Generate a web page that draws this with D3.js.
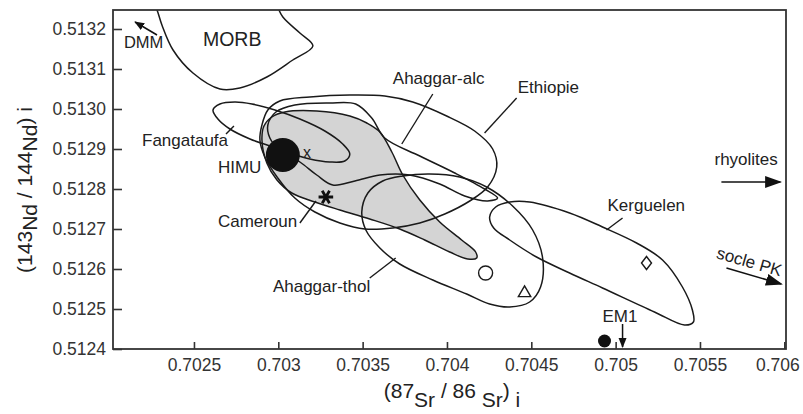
<!DOCTYPE html>
<html lang="en">
<head>
<meta charset="UTF-8">
<title>Sr-Nd isotopes</title>
<script src="https://d3js.org/d3.v7.min.js"></script>
<style>
  body { margin: 0; background: #fff; }
  svg { display: block; font-family: "Liberation Sans", Arial, sans-serif; }
</style>
</head>
<body>
<script>
// axis ticks
const xTicks = [0.7025, 0.703, 0.7035, 0.704, 0.7045, 0.705, 0.7055, 0.706];
const xTickLabels = ["0.7025", "0.703", "0.7035", "0.704", "0.7045", "0.705", "0.7055", "0.706"];
const yTicks = [0.5124, 0.5125, 0.5126, 0.5127, 0.5128, 0.5129, 0.5130, 0.5131, 0.5132];

// fields, each point is [87Sr/86Sr, 143Nd/144Nd]
const morb = [[0.702239,0.513285],[0.702281,0.5132475],[0.702310,0.51321],[0.702376,0.5131475],[0.702494,0.51309],[0.702654,0.51305],[0.702772,0.5130525],[0.702932,0.51308],[0.703086,0.5131225],[0.703205,0.5131575],[0.703128,0.51319],[0.703027,0.51323],[0.702950,0.513285],[0.702595,0.5133475]];
const fangataufa = [[0.702613,0.5129975],[0.702654,0.5130125],[0.702743,0.5130175],[0.702844,0.5130125],[0.70298,0.5129975],[0.703128,0.512975],[0.703276,0.512945],[0.703382,0.5129125],[0.703424,0.5128875],[0.703394,0.51287],[0.703305,0.5128675],[0.703187,0.512875],[0.703069,0.51289],[0.70295,0.5129075],[0.702832,0.512925],[0.702713,0.51295],[0.702642,0.512975]];
const cameroun = [[0.702903,0.5129225],[0.702915,0.5129575],[0.702962,0.51298],[0.703039,0.5129925],[0.703228,0.512995],[0.703424,0.5129825],[0.703525,0.512965],[0.703602,0.5129425],[0.703673,0.5128925],[0.703738,0.512835],[0.703839,0.5127725],[0.703957,0.5127175],[0.704087,0.5126725],[0.70417,0.5126425],[0.704176,0.5126275],[0.704123,0.512625],[0.704016,0.5126425],[0.703868,0.5126725],[0.70372,0.5127],[0.703542,0.512725],[0.703365,0.5127475],[0.703217,0.5127675],[0.70308,0.51279],[0.702992,0.5128225],[0.702932,0.512865]];
const ethiopie = [[0.702903,0.51296],[0.702938,0.5129975],[0.703009,0.51302],[0.703187,0.51303],[0.703424,0.513035],[0.703631,0.5130325],[0.703797,0.5130175],[0.703998,0.5129825],[0.704164,0.512945],[0.704271,0.5129],[0.704295,0.512855],[0.704241,0.512805],[0.704135,0.51277],[0.703987,0.5127375],[0.703839,0.512715],[0.703679,0.5127025],[0.703513,0.5127],[0.703365,0.512715],[0.703217,0.5127425],[0.703098,0.5127775],[0.702997,0.5128275],[0.70292,0.51288],[0.702891,0.5129225]];
const ahaggarAlc = [[0.702938,0.51296],[0.702986,0.5129925],[0.703098,0.51301],[0.703305,0.513015],[0.703459,0.5130125],[0.703554,0.5129775],[0.703631,0.5129275],[0.703839,0.5128825],[0.704046,0.51284],[0.704223,0.5128],[0.7043,0.5127775],[0.704241,0.51277],[0.704105,0.5127825],[0.703957,0.5128125],[0.703779,0.512835],[0.703602,0.512835],[0.703454,0.51282],[0.703323,0.51281],[0.703228,0.512835],[0.703128,0.5128675],[0.703009,0.5128975],[0.70295,0.5129275]];
const ahaggarThol = [[0.703495,0.5127425],[0.703531,0.51279],[0.703619,0.51282],[0.703738,0.5128325],[0.703898,0.5128375],[0.704075,0.51283],[0.704235,0.512805],[0.704389,0.5127575],[0.704508,0.5126975],[0.704567,0.5126275],[0.704555,0.512555],[0.70449,0.5125175],[0.704372,0.512505],[0.704253,0.5125125],[0.704117,0.5125375],[0.703916,0.5125725],[0.70372,0.5126125],[0.703602,0.5126525],[0.703519,0.5126975]];
const kerguelen = [[0.704253,0.51273],[0.704289,0.512755],[0.704372,0.5127675],[0.70449,0.5127675],[0.704727,0.51274],[0.704922,0.512705],[0.705124,0.512665],[0.705278,0.5126225],[0.705396,0.512555],[0.705455,0.5124975],[0.705461,0.5124675],[0.705408,0.51246],[0.70523,0.5124925],[0.704922,0.5125525],[0.704727,0.51259],[0.704531,0.51263],[0.704372,0.5126725],[0.704277,0.5127025]];

// single samples / end members
const himu = [0.703027, 0.512885];
const xPoint = [0.703146, 0.5128775];
const starPoint = [0.703282, 0.51278];
const openCircle = [0.704229, 0.51259];
const triangle = [0.70446, 0.5125425];
const diamond = [0.705183, 0.512615];
const em1Dot = [0.704934, 0.51242];

// labels: text, Sr, Nd
const labels = [
  ["DMM", 0.702085, 0.5131525],
  ["Fangataufa", 0.702192, 0.5129075],
  ["HIMU", 0.702642, 0.51284],
  ["Cameroun", 0.702642, 0.512705],
  ["Ahaggar-alc", 0.703679, 0.5130625],
  ["Ethiopie", 0.704419, 0.51304],
  ["rhyolites", 0.705586, 0.51286],
  ["Kerguelen", 0.704952, 0.512745],
  ["Ahaggar-thol", 0.702968, 0.5125425],
  ["EM1", 0.704922, 0.5124675]
];
// leader lines: [from, to]
const leaders = [
  [[0.70269, 0.5129375], [0.702737, 0.5129575]],
  [[0.703128, 0.512715], [0.703223, 0.51277]],
  [[0.703916, 0.5130375], [0.703732, 0.5129125]],
  [[0.704413, 0.5130275], [0.704223, 0.51294]],
  [[0.705041, 0.5127275], [0.704946, 0.5126975]],
  [[0.703542, 0.5125775], [0.703696, 0.5126275]]
];
// arrows: [from, to]
const arrows = [
  [[0.702281, 0.513185], [0.702151, 0.5132175]],
  [[0.705627, 0.5128175], [0.705977, 0.5128175]],
  [[0.705657, 0.5126025], [0.705982, 0.5125625]],
  [[0.705041, 0.5124625], [0.705041, 0.512405]]
];

const W = 803, H = 414;
const x = d3.scaleLinear().domain([0.70202, 0.70601]).range([113, 786]);
const y = d3.scaleLinear().domain([0.5124, 0.5132475]).range([349, 10]);

const svg = d3.select("body").append("svg").attr("width", W).attr("height", H);

const defs = svg.append("defs");
defs.append("clipPath").attr("id", "plot")
  .append("rect").attr("x", 113).attr("y", 10).attr("width", 673).attr("height", 339);
defs.append("marker").attr("id", "head")
  .attr("viewBox", "0 0 10 10").attr("refX", 9).attr("refY", 5)
  .attr("markerWidth", 10).attr("markerHeight", 10).attr("markerUnits", "userSpaceOnUse")
  .attr("orient", "auto")
  .append("path").attr("d", "M0,1 L10,5 L0,9 Z").attr("fill", "#111");
defs.append("marker").attr("id", "bighead")
  .attr("viewBox", "0 0 10 10").attr("refX", 9).attr("refY", 5)
  .attr("markerWidth", 17).attr("markerHeight", 12).attr("markerUnits", "userSpaceOnUse")
  .attr("orient", "auto").attr("preserveAspectRatio", "none")
  .append("path").attr("d", "M0,0 L10,5 L0,10 Z").attr("fill", "#111");

const line = d3.line().x(d => x(d[0])).y(d => y(d[1])).curve(d3.curveCatmullRomClosed.alpha(0.5));

const g = svg.append("g").attr("clip-path", "url(#plot)");

// grey field first, outlines on top
g.append("path").attr("d", line(cameroun)).attr("fill", "#d4d4d4").attr("stroke", "#1a1a1a").attr("stroke-width", 1.5);

[morb, fangataufa, ethiopie, ahaggarAlc, ahaggarThol, kerguelen].forEach(f => {
  g.append("path").attr("d", line(f)).attr("fill", "none")
    .attr("stroke", "#1a1a1a").attr("stroke-width", 1.5);
});

// leaders
svg.append("g").selectAll("line").data(leaders).join("line")
  .attr("x1", d => x(d[0][0])).attr("y1", d => y(d[0][1]))
  .attr("x2", d => x(d[1][0])).attr("y2", d => y(d[1][1]))
  .attr("stroke", "#1a1a1a").attr("stroke-width", 1.4);

// arrows
svg.append("g").selectAll("line").data(arrows).join("line")
  .attr("x1", d => x(d[0][0])).attr("y1", d => y(d[0][1]))
  .attr("x2", d => x(d[1][0])).attr("y2", d => y(d[1][1]))
  .attr("stroke", "#111").attr("stroke-width", 1.5)
  .attr("marker-end", (d, i) => (i === 1 || i === 2) ? "url(#bighead)" : "url(#head)");

// markers
svg.append("circle").attr("cx", x(himu[0])).attr("cy", y(himu[1])).attr("r", 17).attr("fill", "#111");
svg.append("circle").attr("cx", x(em1Dot[0])).attr("cy", y(em1Dot[1])).attr("r", 6.5).attr("fill", "#111");
svg.append("circle").attr("cx", x(openCircle[0])).attr("cy", y(openCircle[1])).attr("r", 7)
  .attr("fill", "none").attr("stroke", "#1a1a1a").attr("stroke-width", 1.4);
svg.append("path").attr("d", d3.symbol(d3.symbolTriangle2, 110)())
  .attr("transform", `translate(${x(triangle[0])},${y(triangle[1]) + 1})`)
  .attr("fill", "none").attr("stroke", "#1a1a1a").attr("stroke-width", 1.4);
svg.append("path").attr("d", "M-5,0 L0,-6.5 L5,0 L0,6.5 Z")
  .attr("transform", `translate(${x(diamond[0])},${y(diamond[1])})`)
  .attr("fill", "none").attr("stroke", "#1a1a1a").attr("stroke-width", 1.4);
svg.append("path").attr("d", d3.symbol(d3.symbolAsterisk, 150)())
  .attr("transform", `translate(${x(starPoint[0])},${y(starPoint[1])}) rotate(30)`)
  .attr("fill", "none").attr("stroke", "#111").attr("stroke-width", 2.8);
svg.append("text").attr("x", x(xPoint[0])).attr("y", y(xPoint[1]))
  .attr("font-size", 16).attr("fill", "#222").text("x");

// labels
svg.append("g").selectAll("text").data(labels).join("text")
  .attr("x", d => x(d[1])).attr("y", d => y(d[2]))
  .attr("font-size", d => d[0] === "DMM" ? 16.5 : 17)
  .attr("fill", "#222").text(d => d[0]);
svg.append("text").attr("x", x(0.702553)).attr("y", y(0.5131575))
  .attr("font-size", 19.5).attr("fill", "#222").text("MORB");
svg.append("text")
  .attr("transform", `translate(${x(0.705592)},${y(0.5126275)}) rotate(16)`)
  .attr("font-size", 17).attr("fill", "#222").text("socle PK");

// axes
const xAxis = svg.append("g").attr("transform", "translate(0,349)")
  .call(d3.axisBottom(x).tickValues(xTicks).tickFormat((d, i) => xTickLabels[i])
    .tickSizeInner(-7).tickSizeOuter(0).tickPadding(10));
const yAxis = svg.append("g").attr("transform", "translate(113,0)")
  .call(d3.axisLeft(y).tickValues(yTicks).tickFormat(d3.format(".4f"))
    .tickSizeInner(-9).tickSizeOuter(0).tickPadding(7));
[xAxis, yAxis].forEach(a => {
  a.select(".domain").remove();
  a.selectAll(".tick line").attr("stroke", "#333").attr("stroke-width", 1.6);
  a.selectAll(".tick text").attr("font-size", 17.5).attr("fill", "#333")
    .attr("font-family", "Liberation Sans, Arial, sans-serif");
});
// last label sits against the page edge
xAxis.selectAll(".tick text").filter((d, i) => i === xTicks.length - 1).attr("dx", -7);

// frame
svg.append("rect").attr("x", 113).attr("y", 10).attr("width", 673).attr("height", 339)
  .attr("fill", "none").attr("stroke", "#333").attr("stroke-width", 1.8);

// axis titles
const xt = svg.append("text").attr("x", 452).attr("y", 398).attr("text-anchor", "middle")
  .attr("font-size", 21).attr("fill", "#222");
xt.append("tspan").text("(87");
xt.append("tspan").attr("dy", 9).text("Sr");
xt.append("tspan").attr("dy", -9).text(" / 86 ");
xt.append("tspan").attr("dy", 9).text("Sr");
xt.append("tspan").attr("dy", -9).text(")");
xt.append("tspan").attr("dy", 9).text(" i");

const yt = svg.append("text").attr("transform", "translate(32,190) rotate(-90)")
  .attr("text-anchor", "middle").attr("font-size", 21).attr("fill", "#222");
yt.append("tspan").text("(143");
yt.append("tspan").attr("dy", 5).text("Nd");
yt.append("tspan").attr("dy", -5).text(" / 144");
yt.append("tspan").attr("dy", 5).text("Nd");
yt.append("tspan").attr("dy", -5).text(") i");
</script>
</body>
</html>
